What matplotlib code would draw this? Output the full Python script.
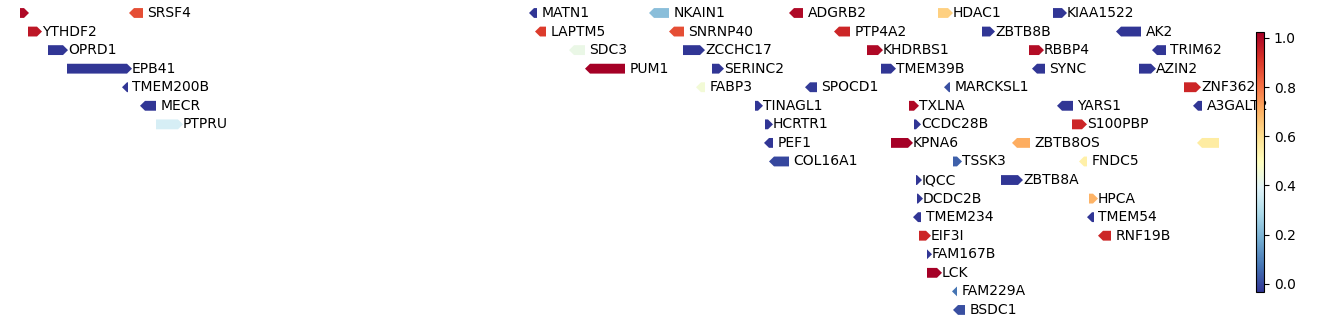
import matplotlib
matplotlib.use("Agg")
import matplotlib.pyplot as plt
from matplotlib.patches import Polygon
from matplotlib.colors import Normalize
from matplotlib.cm import ScalarMappable

# ---- data (genomic positions in kb) ----
genes = ["", "SRSF4", "MATN1", "NKAIN1", "ADGRB2", "HDAC1", "KIAA1522",
         "YTHDF2", "LAPTM5", "SNRNP40", "PTP4A2", "ZBTB8B", "AK2",
         "OPRD1", "SDC3", "ZCCHC17", "KHDRBS1", "RBBP4", "TRIM62",
         "EPB41", "PUM1", "SERINC2", "TMEM39B", "SYNC", "AZIN2",
         "TMEM200B", "FABP3", "SPOCD1", "MARCKSL1", "ZNF362",
         "MECR", "TINAGL1", "TXLNA", "YARS1", "A3GALT2",
         "PTPRU", "HCRTR1", "CCDC28B", "S100PBP",
         "PEF1", "KPNA6", "ZBTB8OS", "",
         "COL16A1", "TSSK3", "FNDC5",
         "IQCC", "ZBTB8A",
         "DCDC2B", "HPCA",
         "TMEM234", "TMEM54",
         "EIF3I", "RNF19B",
         "FAM167B",
         "LCK",
         "FAM229A",
         "BSDC1"]
starts = [29000, 29327, 30527, 30887, 31307, 31754, 32099,
          29024, 30545, 30947, 31442, 31886, 32288,
          29084, 30647, 30989, 31541, 32027, 32396,
          29141, 30695, 31076, 31583, 32036, 32357,
          29306, 31028, 31355, 31772, 32492,
          29360, 31205, 31667, 32111, 32519,
          29408, 31235, 31682, 32156,
          31232, 31613, 31976, 32531,
          31247, 31799, 32177,
          31688, 31943,
          31691, 32207,
          31679, 32201,
          31697, 32234,
          31721,
          31721,
          31796,
          31799]
ends = [29027, 29369, 30551, 30947, 31349, 31799, 32141,
        29066, 30578, 30992, 31490, 31925, 32363,
        29144, 30695, 31055, 31589, 32072, 32438,
        29336, 30815, 31112, 31628, 32075, 32408,
        29324, 31055, 31391, 31790, 32543,
        29408, 31229, 31697, 32159, 32546,
        29489, 31259, 31703, 32201,
        31259, 31679, 32030, 32597,
        31307, 31826, 32201,
        31706, 32009,
        31709, 32234,
        31703, 32222,
        31733, 32273,
        31736,
        31766,
        31811,
        31835]
strands = ["+", "-", "-", "-", "-", "+", "+",
           "+", "-", "-", "-", "+", "-",
           "+", "-", "+", "+", "+", "-",
           "+", "-", "+", "+", "-", "+",
           "-", "-", "-", "-", "+",
           "-", "+", "+", "-", "-",
           "+", "+", "+", "+",
           "-", "+", "-", "-",
           "-", "+", "-",
           "+", "+",
           "+", "+",
           "-", "-",
           "+", "-",
           "+",
           "+",
           "-",
           "-"]
scores = [1.003, 0.865, -0.033, 0.221, 1.003, 0.633, -0.033,
          0.971, 0.897, 0.865, 0.939, -0.033, -0.033,
          -0.033, 0.422, -0.033, 1.003, 0.992, -0.033,
          -0.033, 1.024, -0.033, -0.033, -0.033, -0.033,
          -0.033, 0.453, -0.022, 0.009, 0.939,
          -0.033, -0.033, 1.003, -0.033, -0.033,
          0.369, -0.033, -0.033, 0.939,
          -0.033, 1.024, 0.707, 0.559,
          -0.001, 0.041, 0.548,
          -0.033, -0.033,
          -0.033, 0.696,
          -0.033, -0.033,
          0.939, 0.939,
          -0.033,
          1.024,
          0.073,
          0.009]
tracks = [0, 0, 0, 0, 0, 0, 0,
          1, 1, 1, 1, 1, 1,
          2, 2, 2, 2, 2, 2,
          3, 3, 3, 3, 3, 3,
          4, 4, 4, 4, 4,
          5, 5, 5, 5, 5,
          6, 6, 6, 6,
          7, 7, 7, 7,
          8, 8, 8,
          9, 9,
          10, 10,
          11, 11,
          12, 12,
          13,
          14,
          15,
          16]
cbar_ticks = [0.0, 0.2, 0.4, 0.6, 0.8, 1.0]

# ---- figure ----
fig = plt.figure(figsize=(13.38, 3.24), dpi=100)
ax = fig.add_axes([0, 0, 1, 1])
ax.set_xlim(28940, 32954)
ax.set_ylim(16.757, -0.700)
ax.axis("off")

cmap = plt.get_cmap("RdYlBu_r")
norm = Normalize(vmin=min(scores), vmax=max(scores))

head = 15.0
half_h = 0.265
for name, s, e, st, v, r in zip(genes, starts, ends, strands, scores, tracks):
    col = cmap(norm(v))
    L = e - s
    hl = min(head, L)
    if st == "+":
        pts = [(s, r - half_h), (e - hl, r - half_h), (e, r),
               (e - hl, r + half_h), (s, r + half_h)]
        tx = e
    else:
        pts = [(e, r - half_h), (s + hl, r - half_h), (s, r),
               (s + hl, r + half_h), (e, r + half_h)]
        tx = e + 13.5
    ax.add_patch(Polygon(pts, closed=True, facecolor=col, edgecolor="none"))
    if name:
        ax.text(tx, r, name, ha="left", va="center", fontsize=10, color="black")

cax = fig.add_axes([1256 / 1338, 32 / 324, 8 / 1338, 260 / 324])
sm = ScalarMappable(norm=norm, cmap=cmap)
cb = fig.colorbar(sm, cax=cax)
cb.set_ticks(cbar_ticks)
cb.ax.tick_params(labelsize=10)

fig.savefig("out.png", dpi=100)
